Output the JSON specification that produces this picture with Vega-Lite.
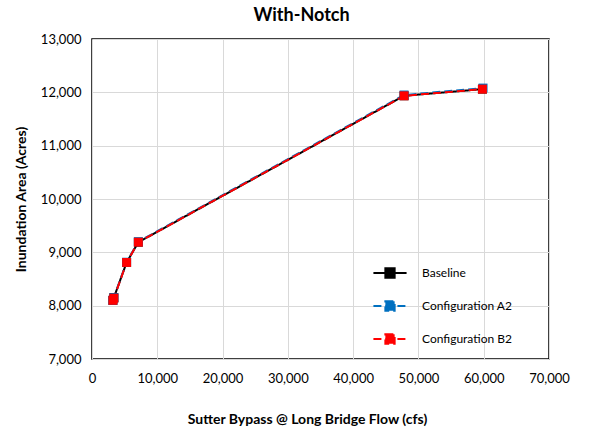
{
  "$schema": "https://vega.github.io/schema/vega-lite/v6.json",
  "width": 457,
  "height": 320,
  "autosize": {"type": "none"},
  "padding": {"left": 92, "top": 39, "right": 43, "bottom": 71},
  "background": "white",
  "config": {
    "font": "Lato",
    "view": {"stroke": "#000000", "strokeWidth": 1.5},
    "axis": {
      "labelFont": "Lato",
      "titleFont": "Lato",
      "labelFontSize": 13,
      "titleFontSize": 14,
      "titleFontWeight": "bold",
      "labelColor": "#000000",
      "titleColor": "#000000",
      "gridColor": "#d9d9d9",
      "gridWidth": 1,
      "domain": false,
      "ticks": false,
      "labelFlush": false
    }
  },
  "title": {
    "text": "With-Notch",
    "font": "Lato",
    "fontSize": 18,
    "fontWeight": "bold",
    "color": "#000000",
    "anchor": "middle",
    "frame": "group",
    "dx": -19,
    "offset": 8
  },
  "data": {
    "values": [
      {"series": "Baseline", "flow": 3200, "area": 8100},
      {"series": "Baseline", "flow": 3350, "area": 8150},
      {"series": "Baseline", "flow": 5300, "area": 8810},
      {"series": "Baseline", "flow": 7100, "area": 9190},
      {"series": "Baseline", "flow": 47800, "area": 11935},
      {"series": "Baseline", "flow": 59800, "area": 12060},
      {"series": "Configuration A2", "flow": 3200, "area": 8100},
      {"series": "Configuration A2", "flow": 3350, "area": 8150},
      {"series": "Configuration A2", "flow": 5300, "area": 8815},
      {"series": "Configuration A2", "flow": 7100, "area": 9200},
      {"series": "Configuration A2", "flow": 47800, "area": 11950},
      {"series": "Configuration A2", "flow": 59900, "area": 12080},
      {"series": "Configuration B2", "flow": 3200, "area": 8100},
      {"series": "Configuration B2", "flow": 3350, "area": 8140},
      {"series": "Configuration B2", "flow": 5300, "area": 8810},
      {"series": "Configuration B2", "flow": 7100, "area": 9190},
      {"series": "Configuration B2", "flow": 47800, "area": 11935},
      {"series": "Configuration B2", "flow": 59800, "area": 12060}
    ]
  },
  "encoding": {
    "x": {
      "field": "flow",
      "type": "quantitative",
      "scale": {"domain": [0, 70000], "nice": false},
      "axis": {
        "title": "Sutter Bypass @ Long Bridge Flow (cfs)",
        "values": [0, 10000, 20000, 30000, 40000, 50000, 60000, 70000],
        "format": ",d",
        "labelPadding": 13,
        "titlePadding": 27,
        "titleX": 215
      }
    },
    "y": {
      "field": "area",
      "type": "quantitative",
      "scale": {"domain": [7000, 13000], "nice": false, "zero": false},
      "axis": {
        "title": "Inundation Area (Acres)",
        "values": [7000, 8000, 9000, 10000, 11000, 12000, 13000],
        "format": ",d",
        "labelPadding": 11,
        "titlePadding": 12
      }
    },
    "color": {
      "field": "series",
      "type": "nominal",
      "scale": {
        "domain": ["Baseline", "Configuration A2", "Configuration B2"],
        "range": ["#000000", "#0070C0", "#FF0000"]
      },
      "legend": {
        "title": null,
        "orient": "none",
        "legendX": 280,
        "legendY": 216,
        "padding": 0,
        "symbolType": "M-1,0H1M-0.28,-0.28H0.28V0.28H-0.28Z",
        "symbolSize": 1100,
        "symbolStrokeWidth": 2,
        "labelFont": "Lato",
        "labelFontSize": 12,
        "labelColor": "#000000",
        "labelOffset": 14,
        "rowPadding": 6
      }
    },
    "strokeDash": {
      "field": "series",
      "type": "nominal",
      "scale": {
        "domain": ["Baseline", "Configuration A2", "Configuration B2"],
        "range": [[1, 0], [8, 4], [8, 4]]
      },
      "legend": {
        "title": null,
        "orient": "none",
        "legendX": 280,
        "legendY": 216,
        "padding": 0,
        "symbolType": "M-1,0H1M-0.28,-0.28H0.28V0.28H-0.28Z",
        "symbolSize": 1100,
        "symbolStrokeWidth": 2,
        "labelFont": "Lato",
        "labelFontSize": 12,
        "labelColor": "#000000",
        "labelOffset": 14,
        "rowPadding": 6
      }
    }
  },
  "layer": [
    {
      "mark": {"type": "line", "strokeWidth": 2},
      "encoding": {"order": {"field": "flow", "type": "quantitative"}}
    },
    {
      "mark": {"type": "point", "shape": "square", "filled": true, "size": 80, "opacity": 1, "strokeWidth": 0},
      "encoding": {
        "strokeDash": {"value": [1, 0]},
        "color": {"field": "series", "type": "nominal", "legend": null}
      }
    }
  ]
}
